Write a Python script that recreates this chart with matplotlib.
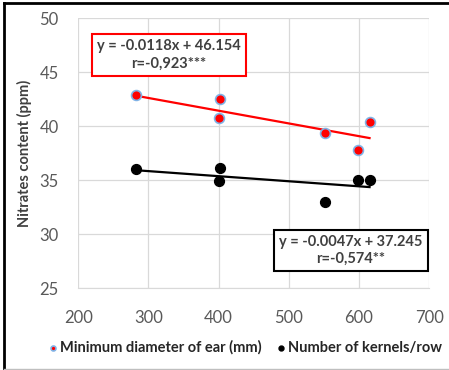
import matplotlib
matplotlib.use("Agg")
import matplotlib.pyplot as plt
from matplotlib.lines import Line2D
import numpy as np

plt.rcParams['font.family'] = ['Lato', 'DejaVu Sans']

# x values (shared) and nitrates content for both traits
xDiam = [282, 402, 400, 551, 598, 615]
yDiam = [42.9, 42.5, 40.8, 39.4, 37.8, 40.4]
xKern = [282, 402, 400, 551, 598, 615]
yKern = [36.0, 36.1, 34.9, 33.0, 35.0, 35.0]

# trendline coefficients as printed in the chart
fitDiam = (-0.0118, 46.154)
fitKern = (-0.0047, 37.245)
textDiam = "y = -0.0118x + 46.154\nr=-0,923***"
textKern = "y = -0.0047x + 37.245\nr=-0,574**"

labelDiam = "Minimum diameter of ear (mm)"
labelKern = "Number of kernels/row"

fig = plt.figure(figsize=(4.49, 3.70), dpi=100)
ax = fig.add_axes([0.174, 0.2216, 0.782, 0.729])

gray = '#595959'
ax.scatter(xDiam, yDiam, s=50, c='#ff0000', edgecolors='#7fb2e6', linewidths=1.2, zorder=3, label=labelDiam)
ax.scatter(xKern, yKern, s=50, c='black', edgecolors='black', linewidths=1, zorder=3, label=labelKern)

xs = np.array([min(xDiam), max(xDiam)])
ax.plot(xs, fitDiam[0]*xs + fitDiam[1], color='#ff0000', lw=1.6, zorder=2)
xs = np.array([min(xKern), max(xKern)])
ax.plot(xs, fitKern[0]*xs + fitKern[1], color='black', lw=1.6, zorder=2)

ax.set_xlim(200, 700)
ax.set_ylim(25, 50)
ax.set_xticks(range(200, 701, 100))
ax.set_yticks(range(25, 51, 5))
ax.grid(True, color='#d9d9d9', lw=0.9)
ax.set_axisbelow(True)
for s in ax.spines.values():
    s.set_visible(False)
ax.spines['bottom'].set_visible(True)
ax.spines['bottom'].set_color('#d9d9d9')
ax.tick_params(length=0, labelsize=12, colors=gray)
ax.tick_params(axis='y', pad=14)
ax.tick_params(axis='x', pad=16)
ax.set_ylabel("Nitrates content (ppm)", fontsize=10.5, fontweight='bold', color='#404040', labelpad=5)

ax.text(0.258, 0.864, textDiam, transform=ax.transAxes, ha='center', va='center',
        fontsize=10.5, fontweight='bold', color='#404040', linespacing=1.3,
        bbox=dict(boxstyle='square,pad=0.35', fc='white', ec='#ff0000', lw=1.5))
ax.text(0.777, 0.139, textKern, transform=ax.transAxes, ha='center', va='center',
        fontsize=10.5, fontweight='bold', color='#404040', linespacing=1.3,
        bbox=dict(boxstyle='square,pad=0.35', fc='white', ec='black', lw=1.5))

fig.legend(loc='center', bbox_to_anchor=(0.545, 0.06), ncol=2, frameon=False,
           prop=dict(size=10.5, weight='bold'), markerscale=0.5, handlelength=0.8,
           handletextpad=0.1, columnspacing=0.9, labelcolor='#262626')

# outer frame: black top and left, light gray bottom
fig.lines.append(Line2D([0.008, 1.0], [0.993, 0.993], transform=fig.transFigure, color='black', lw=2))
fig.lines.append(Line2D([0.008, 0.008], [0.003, 0.993], transform=fig.transFigure, color='black', lw=2))
fig.lines.append(Line2D([0.008, 1.0], [0.003, 0.003], transform=fig.transFigure, color='#bfbfbf', lw=1))

fig.savefig("out.png", dpi=100)
